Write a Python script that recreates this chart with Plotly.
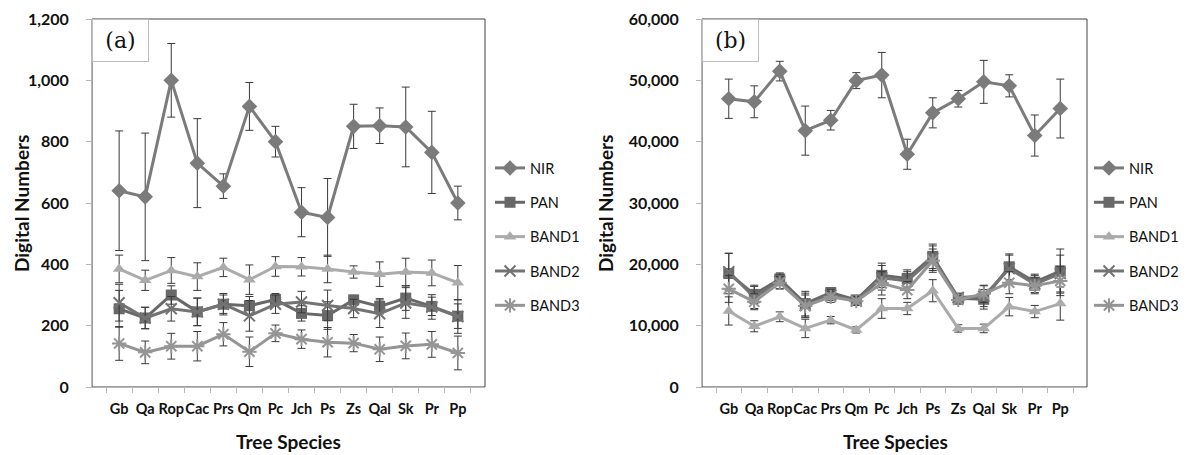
import plotly.graph_objects as go

species = ["Gb", "Qa", "Rop", "Cac", "Prs", "Qm", "Pc", "Jch", "Ps", "Zs", "Qal", "Sk", "Pr", "Pp"]

# Panel (a)
a_nir = [640, 620, 1000, 730, 655, 915, 800, 570, 553, 850, 852, 848, 765, 600]
a_nir_err = [195, 208, 120, 145, 40, 78, 50, 80, 127, 72, 58, 130, 134, 55]
a_pan = [255, 225, 300, 245, 270, 265, 285, 240, 233, 284, 263, 290, 263, 231]
a_pan_err = [60, 35, 30, 45, 30, 30, 20, 25, 45, 15, 25, 40, 30, 40]
a_b1 = [385, 348, 380, 360, 390, 350, 393, 392, 385, 375, 368, 375, 372, 340]
a_b1_err = [45, 33, 42, 45, 30, 48, 32, 30, 45, 20, 40, 45, 42, 56]
a_b2 = [275, 225, 255, 245, 270, 232, 270, 277, 266, 256, 239, 274, 261, 230]
a_b2_err = [60, 35, 40, 45, 35, 50, 30, 35, 50, 30, 45, 50, 40, 55]
a_b3 = [142, 113, 133, 133, 172, 115, 175, 156, 146, 143, 123, 134, 139, 111]
a_b3_err = [55, 37, 42, 48, 38, 48, 27, 30, 48, 28, 40, 42, 42, 55]

# Panel (b)
b_nir = [47000, 46500, 51500, 41800, 43500, 49950, 50850, 37950, 44700, 47000, 49750, 49100, 41000, 45400]
b_nir_err = [3200, 2600, 1600, 4000, 1600, 1300, 3700, 2450, 2450, 1350, 3500, 1800, 3350, 4800]
b_pan = [18500, 15100, 17600, 13600, 15400, 14200, 18200, 17700, 21300, 14450, 14300, 19600, 17100, 18900]
b_pan_err = [3300, 1500, 1000, 2000, 800, 600, 2000, 1400, 2000, 600, 1600, 2100, 1300, 3600]
b_b1 = [12400, 9900, 11450, 9550, 10900, 9300, 12800, 12800, 15700, 9550, 9550, 13100, 12300, 13600]
b_b1_err = [2300, 900, 800, 1500, 600, 500, 1600, 1000, 1800, 600, 700, 1500, 1000, 2700]
b_b2 = [18800, 14600, 17200, 13300, 15000, 14000, 17800, 17300, 21000, 14600, 14800, 19300, 16800, 18500]
b_b2_err = [3000, 1800, 1200, 2000, 900, 700, 2000, 1500, 2000, 700, 1700, 2200, 1400, 3000]
b_b3 = [16000, 13900, 17000, 13200, 14700, 14000, 16900, 15800, 20600, 14200, 15200, 17000, 16500, 17300]
b_b3_err = [2200, 1300, 1000, 1800, 900, 700, 1900, 1400, 1900, 700, 1400, 1800, 1300, 2400]

names = ["NIR", "PAN", "BAND1", "BAND2", "BAND3"]
colors = ["#7b7b7b", "#686868", "#ababab", "#737373", "#959595"]
symbols = ["diamond", "square", "triangle-up", "x-thin-open", "asterisk-open"]
msizes = [12, 11, 11, 11, 12]

# page has an 8px body margin: work in screen pixels and convert
OFF = 8
W, H = 1188 - OFF, 455 - OFF


def px(x):
    return (x - OFF) / W


def py(y):
    return 1 - (y - OFF) / H


fig = go.Figure()

panels = [
    ("x", "y", "legend", [a_nir, a_pan, a_b1, a_b2, a_b3], [a_nir_err, a_pan_err, a_b1_err, a_b2_err, a_b3_err]),
    ("x2", "y2", "legend2", [b_nir, b_pan, b_b1, b_b2, b_b3], [b_nir_err, b_pan_err, b_b1_err, b_b2_err, b_b3_err]),
]

for xa, ya, lg, series, errs in panels:
    for i, name in enumerate(names):
        sym = symbols[i]
        marker = dict(symbol=sym, size=msizes[i], color=colors[i])
        if sym.endswith("open"):
            marker["line"] = dict(color=colors[i], width=2)
        fig.add_trace(go.Scatter(
            x=species, y=series[i], name=name, mode="lines+markers",
            xaxis=xa, yaxis=ya, legend=lg, legendgroup=lg + name,
            line=dict(color=colors[i], width=3),
            marker=marker,
            error_y=dict(type="data", array=errs[i], visible=True,
                         color="#3a3a3a", thickness=1, width=4),
        ))

TOP, BOT = 19, 387
yd = [py(BOT), py(TOP)]
xtickfont = dict(family="Lato", size=14.5, color="#111111", weight=700)
ytickfont = dict(family="Lato", size=16, color="#111111", weight=700)

axis_common = dict(showgrid=False, zeroline=False, showline=True, automargin=False,
                   linecolor="#b5b5b5", linewidth=1, ticks="outside",
                   ticklen=5, tickcolor="#b5b5b5")

legfont = dict(family="Lato", size=14.5, color="#111111")

fig.update_layout(
    width=W, height=H,
    margin=dict(l=0, r=0, t=0, b=0, autoexpand=False),
    paper_bgcolor="white", plot_bgcolor="white",
    showlegend=True,
    xaxis=dict(domain=[px(92), px(485)], anchor="y", type="category", tickfont=xtickfont,
               tickson="boundaries", tickangle=0, ticklabelstandoff=9, **axis_common),
    yaxis=dict(domain=yd, anchor="x", range=[0, 1200], dtick=200, tickfont=ytickfont,
               tickformat=",", ticklabelstandoff=14, **axis_common),
    xaxis2=dict(domain=[px(702), px(1087)], anchor="y2", type="category", tickfont=xtickfont,
                tickson="boundaries", tickangle=0, ticklabelstandoff=9, **axis_common),
    yaxis2=dict(domain=yd, anchor="x2", range=[0, 60000], dtick=10000, tickfont=ytickfont,
                tickformat=",", ticklabelstandoff=14, **axis_common),
    legend=dict(x=px(490), y=py(152), xanchor="left", yanchor="top",
                font=legfont, tracegroupgap=12.5, itemwidth=30, bgcolor="rgba(0,0,0,0)"),
    legend2=dict(x=px(1089), y=py(152), xanchor="left", yanchor="top",
                 font=legfont, tracegroupgap=12.5, itemwidth=30, bgcolor="rgba(0,0,0,0)"),
)

# plot-area frames (dark top/right)
for x0, x1 in [(92, 485), (702, 1087)]:
    fig.add_shape(type="rect", xref="paper", yref="paper",
                  x0=px(x0), x1=px(x1), y0=yd[0], y1=yd[1],
                  line=dict(color="#404040", width=1), layer="below")

# panel labels
for x0, txt in [(92, "(a)"), (702, "(b)")]:
    fig.add_annotation(xref="paper", yref="paper", x=px(x0), y=py(TOP),
                       xanchor="left", yanchor="top", text=txt, showarrow=False,
                       width=51, height=37, align="center", valign="middle",
                       font=dict(family="DejaVu Serif", size=22, color="#111111"),
                       bgcolor="white", bordercolor="#bdbdbd", borderwidth=1,
                       borderpad=2)

# axis titles
for xc, yl in [(288, 22), (895, 606)]:
    fig.add_annotation(xref="paper", yref="paper", x=px(xc), y=py(441),
                       xanchor="center", yanchor="middle",
                       text="<b>Tree Species</b>", showarrow=False,
                       font=dict(family="Lato", size=19, color="#111111"))
    fig.add_annotation(xref="paper", yref="paper", x=px(yl), y=py(204),
                       xanchor="center", yanchor="middle",
                       text="<b>Digital Numbers</b>", showarrow=False, textangle=-90,
                       font=dict(family="Lato", size=19, color="#111111"))

fig.write_html("out.html")
